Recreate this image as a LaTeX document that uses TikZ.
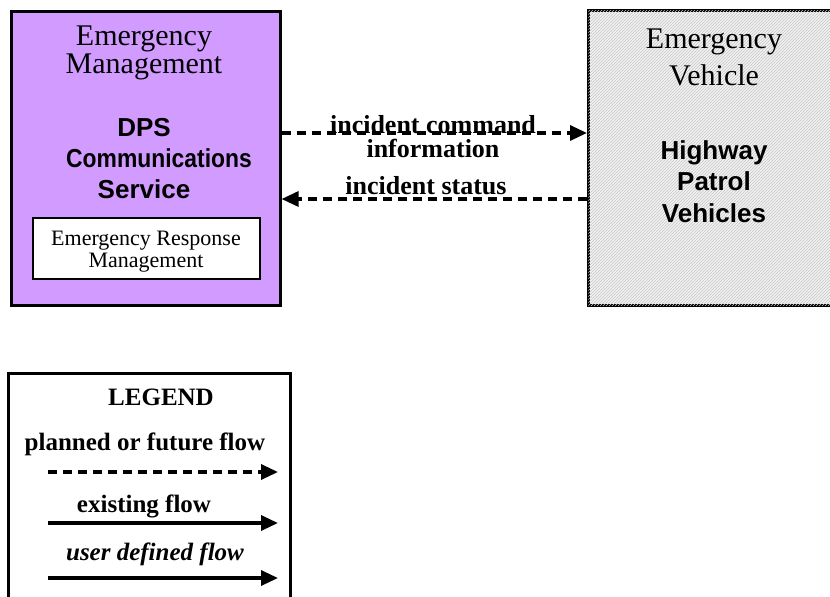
\documentclass[tikz,border=0pt]{standalone}
\usepackage{fontspec}
\setmainfont{Liberation Serif}
\newfontfamily\arialf{Liberation Sans}
\usetikzlibrary{arrows.meta,patterns}
\definecolor{lav}{RGB}{210,155,255}
\begin{document}
\begin{tikzpicture}[x=1pt,y=-1pt,
  box/.style={draw, line width=2.6pt, inner sep=0pt, anchor=north west},
  lbl/.style={inner sep=0pt, anchor=base},
  titlef/.style={lbl, font=\fontsize{30}{30}\selectfont},
  sysf/.style={lbl, font=\arialf\bfseries\fontsize{26}{26}\selectfont},
  flowf/.style={lbl, font=\bfseries\fontsize{26}{26}\selectfont},
  legf/.style={lbl, font=\bfseries\fontsize{25}{25}\selectfont},
  tipf/.style={-{Triangle[length=17pt,width=15pt]}},
  flow/.style={line width=3.3pt, dash pattern=on 9pt off 6pt, tipf},
  solidflow/.style={line width=3.3pt, tipf}]
\useasboundingbox (0,0) rectangle (830,597);

% boxes
\node[box, fill=lav, minimum width=269pt, minimum height=294pt] (em) at (10,10) {};
\node[box, fill=gray!10, postaction={pattern=north east lines, pattern color=gray!45},
      minimum width=262pt, minimum height=295pt] (ev) at (587,9) {};
\node[box, line width=2pt, fill=white, minimum width=227pt, minimum height=61pt] (erm) at (32,217) {};
\node[box, minimum width=282pt, minimum height=260pt] (leg) at (7,372) {};

% left box texts
\node[titlef] (em1) at (144,45) {Emergency};
\node[titlef] (em2) at (144,73) {Management};
\node[sysf] (dps1) at (144,136) {DPS};
\node[sysf] (dps2) at (159,167) {\scalebox{0.88}[1]{Communications}};
\node[sysf] (dps3) at (144,198) {Service};
\node[lbl, font=\fontsize{22}{22}\selectfont] (erm1) at (146,245) {Emergency Response};
\node[lbl, font=\fontsize{22}{22}\selectfont] (erm2) at (146,267) {Management};

% right box texts
\node[titlef] (ev1) at (714,48) {Emergency};
\node[titlef] (ev2) at (714,85) {Vehicle};
\node[sysf] (hp1) at (714,159) {Highway};
\node[sysf] (hp2) at (714,190) {Patrol};
\node[sysf] (hp3) at (714,222) {Vehicles};

% flows
\coordinate (a1) at (0,133);
\coordinate (a2) at (0,199);
\draw[flow] (em.east |- a1) -- (ev.west |- a1);
\draw[flow] (ev.west |- a2) -- (em.east |- a2);
\node[flowf] (f1a) at (433,133) {incident command};
\node[flowf] (f1b) at (433,157) {information};
\node[flowf] (f2) at (426,194) {incident status};

% legend
\node[legf] (lt) at (161,405) {LEGEND};
\node[legf] (lp) at (145,450) {planned or future flow};
\coordinate (l1s) at (48,472);
\coordinate (l1e) at (278,472);
\draw[flow] (l1s) -- (l1e);
\node[legf] (lx) at (144,512) {existing flow};
\coordinate (l2s) at (48,523);
\coordinate (l2e) at (278,523);
\draw[solidflow] (l2s) -- (l2e);
\node[legf, font=\bfseries\itshape\fontsize{25}{25}\selectfont] (lu) at (155,560) {user defined flow};
\coordinate (l3s) at (48,578);
\coordinate (l3e) at (278,578);
\draw[solidflow] (l3s) -- (l3e);
\end{tikzpicture}
\end{document}
